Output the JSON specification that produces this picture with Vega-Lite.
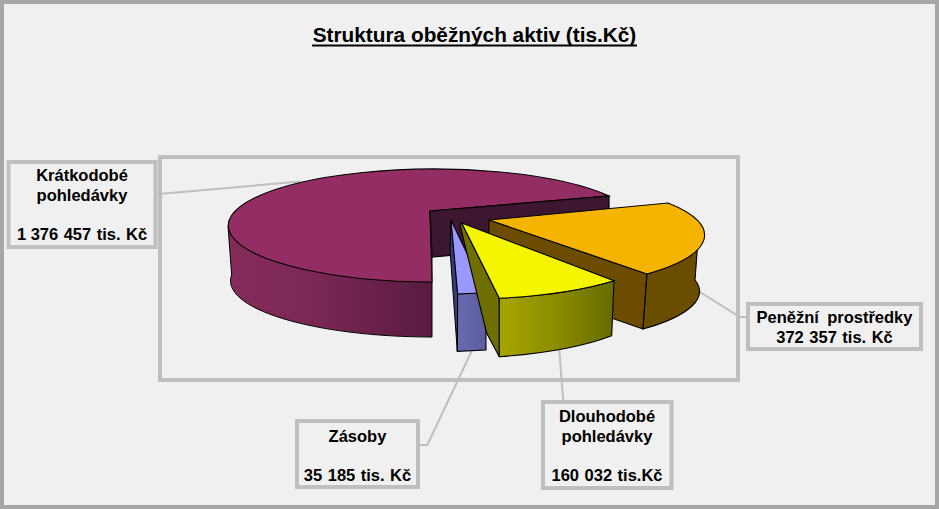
{"$schema":"https://vega.github.io/schema/vega-lite/v6.json","width":939,"height":509,"padding":0,"autosize":{"type":"none"},"background":"#f0f0f0","config":{"view":{"stroke":null}},"title":{"text":"Struktura oběžných aktiv (tis.Kč)","font":"Liberation Sans","fontWeight":"bold","fontSize":20.8,"color":"#000000","anchor":"middle","dx":5,"dy":69,"offset":0,"baseline":"alphabetic"},"data":{"values":[{"slozka":"Zásoby","hodnota":35185,"nazev":"Zásoby","popisek":"35\u2004185\u2004tis.\u2004Kč"},{"slozka":"Dlouhodobé pohledávky","hodnota":160032,"nazev":"Dlouhodobé\npohledávky","popisek":"160\u2004032\u2004tis.Kč"},{"slozka":"Peněžní prostředky","hodnota":372357,"nazev":"Peněžní\u2002prostředky","popisek":"372\u2004357\u2004tis.\u2004Kč"},{"slozka":"Krátkodobé pohledávky","hodnota":1376457,"nazev":"Krátkodobé\npohledávky","popisek":"1 376\u2004457\u2004tis.\u2004Kč"}]},"encoding":{"x":{"field":"hodnota","type":"quantitative","axis":null,"scale":{"domain":[0,2000000],"range":[0,0]}},"y":{"field":"hodnota","type":"quantitative","axis":null,"scale":{"domain":[0,2000000],"range":[0,0]}}},"layer":[{"data":{"values":[{"hodnota":0}]},"mark":{"type":"point","size":4,"opacity":1,"filled":false,"fill":null,"stroke":"#a6a6a6","strokeWidth":4,"shape":"M2 2L937 2L937 507L2 507Z"}},{"data":{"values":[{"hodnota":0}]},"mark":{"type":"point","size":4,"opacity":1,"filled":false,"fill":null,"stroke":"#bfbfbf","strokeWidth":4,"shape":"M160 157L738 157L738 380L160 380Z"}},{"data":{"values":[{"hodnota":0}]},"mark":{"type":"point","size":4,"opacity":1,"filled":false,"fill":null,"stroke":"#000000","strokeWidth":2,"shape":"M312 45.5L637 45.5"}},{"mark":{"type":"point","size":4,"opacity":1,"filled":false,"fill":null,"stroke":"#bfbfbf","strokeWidth":2},"encoding":{"shape":{"field":"slozka","type":"nominal","legend":null,"scale":{"domain":["Zásoby","Dlouhodobé pohledávky","Peněžní prostředky","Krátkodobé pohledávky"],"range":["M418 445L427.3 445L471.7 351","M563.3 402L559.3 350","M748 317L740 317L695 289","M156 194.3L300 181.5"]}}}},{"mark":{"type":"point","size":4,"opacity":1,"filled":false,"fill":null,"stroke":"#bfbfbf","strokeWidth":4},"encoding":{"shape":{"field":"slozka","type":"nominal","legend":null,"scale":{"domain":["Zásoby","Dlouhodobé pohledávky","Peněžní prostředky","Krátkodobé pohledávky"],"range":["M297 421L418 421L418 487L297 487Z","M543 402L671.5 402L671.5 488L543 488Z","M748 304L921 304L921 349L748 349Z","M8.5 162L155.5 162L155.5 247L8.5 247Z"]}}}},{"transform":[{"filter":"datum.slozka === 'Krátkodobé pohledávky'"}],"mark":{"type":"point","size":4,"opacity":1,"filled":true,"stroke":"#000000","strokeWidth":1,"fill":{"gradient":"linear","x1":0,"y1":0,"x2":1,"y2":0,"stops":[{"offset":0,"color":"#842b5b"},{"offset":0.4,"color":"#7c2855"},{"offset":1,"color":"#591b3f"}]},"shape":"M228 226L231.7 275A 202 56 0 0 0 432 337L432 240Z"}},{"transform":[{"filter":"datum.slozka === 'Krátkodobé pohledávky'"}],"mark":{"type":"point","size":4,"opacity":1,"filled":true,"stroke":"#000000","strokeWidth":1.1,"fill":"#942d63","shape":"M430 211L609 196A 205.5 56.5 0 1 0 432 282Z"}},{"transform":[{"filter":"datum.slozka === 'Krátkodobé pohledávky'"}],"mark":{"type":"point","size":4,"opacity":1,"filled":true,"stroke":"#000000","strokeWidth":1.2,"fill":"#3d1630","shape":"M430 211L609 196L609 241L432 257Z"}},{"transform":[{"filter":"datum.slozka === 'Peněžní prostředky'"}],"mark":{"type":"point","size":4,"opacity":1,"filled":true,"stroke":"#000000","strokeWidth":1.1,"fill":"#6b4c00","shape":"M489 220L647 274L643 329L488 275Z"}},{"transform":[{"filter":"datum.slozka === 'Peněžní prostředky'"}],"mark":{"type":"point","size":4,"opacity":1,"filled":true,"stroke":"#000000","strokeWidth":1.1,"fill":"#6b4d00","shape":"M698.5 233L695 280A 200 54 0 0 1 643 329L647 274A 204 56 0 0 0 698.5 233Z"}},{"transform":[{"filter":"datum.slozka === 'Peněžní prostředky'"}],"mark":{"type":"point","size":4,"opacity":1,"filled":true,"stroke":"#000000","strokeWidth":1.1,"fill":"#f5b400","shape":"M489 220L668 203A 204 56 0 0 1 647 274Z"}},{"transform":[{"filter":"datum.slozka === 'Zásoby'"}],"mark":{"type":"point","size":4,"opacity":1,"filled":true,"stroke":"#000000","strokeWidth":1,"fill":"#3a3a78","shape":"M451 220L457.7 294L457.3 351L450 250Z"}},{"transform":[{"filter":"datum.slozka === 'Zásoby'"}],"mark":{"type":"point","size":4,"opacity":1,"filled":true,"stroke":"#000000","strokeWidth":1.1,"fill":{"gradient":"linear","x1":0,"y1":0,"x2":1,"y2":0,"stops":[{"offset":0,"color":"#6a6ab0"},{"offset":1,"color":"#5c5c9e"}]},"shape":"M457.7 294L485.7 292.7L486 350L457.3 351.3Z"}},{"transform":[{"filter":"datum.slozka === 'Zásoby'"}],"mark":{"type":"point","size":4,"opacity":1,"filled":true,"stroke":"#000000","strokeWidth":1.1,"fill":"#9999ff","shape":"M451 220L485.7 292.7L457.7 294Z"}},{"transform":[{"filter":"datum.slozka === 'Dlouhodobé pohledávky'"}],"mark":{"type":"point","size":4,"opacity":1,"filled":true,"stroke":"#000000","strokeWidth":1.1,"fill":"#6f6f00","shape":"M460 225L461.7 223L499.3 298.3L499.3 356.7L486.7 333.3Z"}},{"transform":[{"filter":"datum.slozka === 'Dlouhodobé pohledávky'"}],"mark":{"type":"point","size":4,"opacity":1,"filled":true,"stroke":"#000000","strokeWidth":1.1,"fill":{"gradient":"linear","x1":0,"y1":0,"x2":1,"y2":0,"stops":[{"offset":0,"color":"#a5a500"},{"offset":0.5,"color":"#8c8c00"},{"offset":1,"color":"#666b00"}]},"shape":"M499.3 298.3L499.3 356.7A 200 54 0 0 0 611.7 335.7L614 280.7A 204 56 0 0 1 499.3 298.3Z"}},{"transform":[{"filter":"datum.slozka === 'Dlouhodobé pohledávky'"}],"mark":{"type":"point","size":4,"opacity":1,"filled":true,"stroke":"#000000","strokeWidth":1.1,"fill":"#f5f500","shape":"M461.7 223L614 280.7A 204 56 0 0 1 499.3 298.3Z"}},{"mark":{"type":"text","font":"Liberation Sans","fontWeight":"bold","fontSize":16.5,"color":"#000000","align":"center","baseline":"alphabetic","lineBreak":"\n","lineHeight":20},"encoding":{"text":{"field":"nazev","type":"nominal"},"x":{"field":"hodnota","type":"quantitative","axis":null,"scale":{"domain":[35185,160032,372357,1376457],"range":[357.5,607,834.5,82]}},"y":{"field":"hodnota","type":"quantitative","axis":null,"scale":{"domain":[35185,160032,372357,1376457],"range":[441.7,421.7,322.7,180.7]}}}},{"mark":{"type":"text","font":"Liberation Sans","fontWeight":"bold","fontSize":16.5,"color":"#000000","align":"center","baseline":"alphabetic"},"encoding":{"text":{"field":"popisek","type":"nominal"},"x":{"field":"hodnota","type":"quantitative","axis":null,"scale":{"domain":[35185,160032,372357,1376457],"range":[357.5,607,834.5,82]}},"y":{"field":"hodnota","type":"quantitative","axis":null,"scale":{"domain":[35185,160032,372357,1376457],"range":[480.7,480.7,342.7,239.7]}}}}],"resolve":{"scale":{"x":"independent","y":"independent","shape":"independent"}}}
